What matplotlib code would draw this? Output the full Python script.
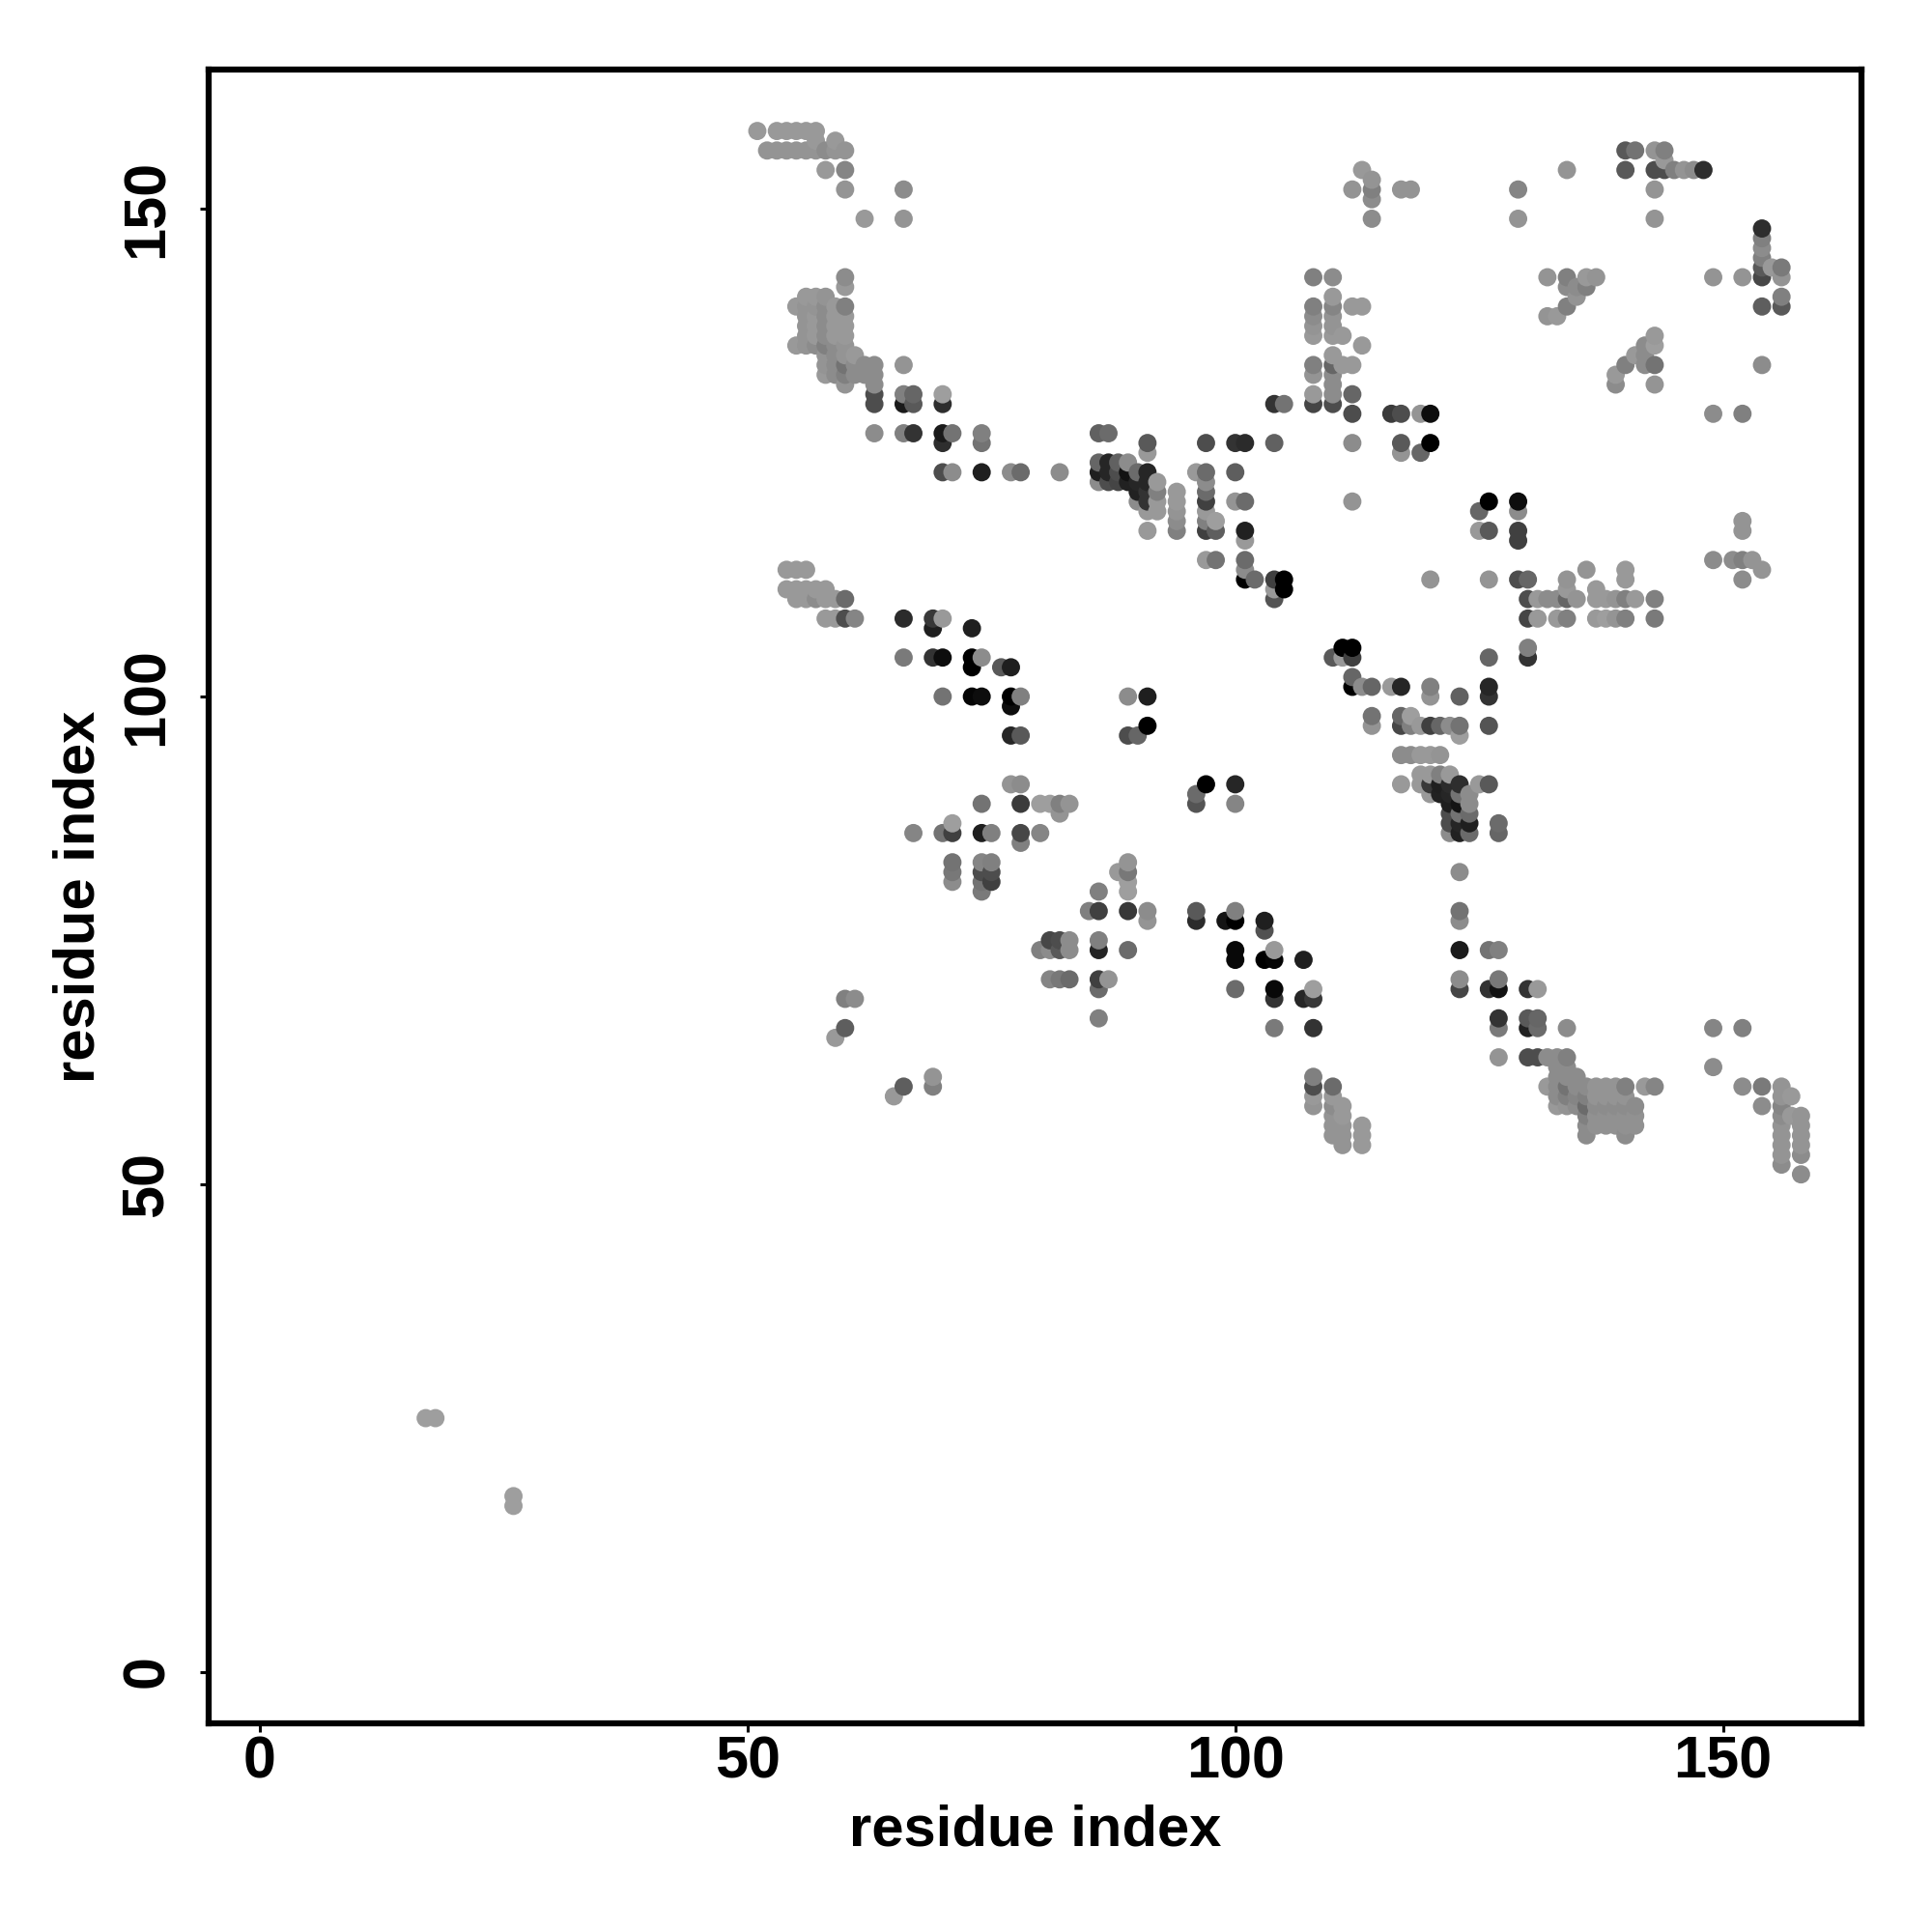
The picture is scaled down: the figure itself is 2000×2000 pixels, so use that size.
import matplotlib
matplotlib.use('Agg')
import matplotlib.pyplot as plt

# contact map, one entry per row of the plot (y), with the x of each dot and its grey level
row_y = [158, 157, 156, 155, 154, 153, 152, 151, 149, 148, 147, 146, 145, 144, 143, 142, 141, 140, 139, 138, 137, 136,
         135, 134, 133, 132, 131, 130, 129, 127, 126, 125, 124, 123, 122, 121, 120, 119, 118, 117, 116, 114, 113, 112,
         111, 110, 108, 107, 105, 104, 103, 102, 101, 100, 99, 98, 97, 96, 94, 92, 91, 90, 89, 88, 87, 86, 85, 83, 82,
         81, 80, 78, 77, 76, 75, 74, 73, 71, 70, 69, 67, 66, 65, 63, 62, 61, 60, 59, 58, 57, 56, 55, 54, 53, 52, 51,
         26, 18, 17]

row_x = [
    [51, 53, 54, 55, 56, 57],
    [57, 59],
    [52, 53, 54, 55, 56, 57, 58, 59, 60, 140, 141, 143, 144],
    [144],
    [58, 60, 113, 134, 140, 143, 144, 145, 146, 147, 148],
    [114],
    [60, 66, 112, 114, 117, 118, 129, 143],
    [114],
    [62, 66, 114, 129, 143],
    [154],
    [154],
    [154],
    [154],
    [154, 155, 156],
    [60, 108, 110, 132, 134, 136, 137, 149, 152, 154, 156],
    [60, 134, 135, 136],
    [56, 57, 58, 110, 135, 156],
    [55, 56, 57, 58, 59, 60, 108, 110, 112, 113, 134, 154, 156],
    [56, 57, 58, 59, 60, 108, 110, 132, 133],
    [56, 57, 58, 59, 60, 108, 110],
    [56, 57, 58, 59, 60, 108, 110, 111, 143],
    [55, 56, 57, 58, 59, 60, 113, 142, 143],
    [58, 59, 60, 61, 110, 141, 142],
    [58, 59, 60, 61, 62, 63, 66, 108, 110, 111, 112, 140, 142, 143, 154],
    [58, 59, 60, 61, 62, 63, 108, 110, 139],
    [60, 63, 110, 139, 143],
    [63, 66, 67, 70, 108, 110, 112],
    [63, 66, 67, 70, 104, 105, 108, 110],
    [112, 116, 117, 119, 120, 149, 152],
    [63, 66, 67, 70, 71, 74, 86, 87],
    [70, 74, 91, 97, 100, 101, 104, 112, 117, 120],
    [91, 117, 119],
    [86, 87, 88, 89],
    [70, 71, 74, 77, 78, 82, 86, 87, 88, 89, 90, 91, 96, 97, 100],
    [86, 87, 88, 89, 90, 91, 92, 97],
    [90, 91, 92, 94, 97],
    [90, 91, 92, 94, 97, 100, 101, 112, 126, 129],
    [91, 92, 94, 97, 125, 129],
    [94, 97, 98, 152],
    [91, 94, 97, 98, 101, 125, 126, 129, 152],
    [101, 129],
    [97, 98, 101, 149, 151, 152, 153],
    [54, 55, 56, 101, 136, 140, 154],
    [101, 102, 104, 105, 120, 126, 129, 130, 134, 140, 152],
    [54, 55, 56, 57, 58, 104, 105, 134, 137],
    [55, 56, 57, 58, 59, 60, 104, 130, 131, 132, 133, 134, 135, 137, 138, 139, 140, 141, 143],
    [58, 59, 60, 61, 66, 69, 70, 130, 131, 133, 134, 137, 138, 139, 140, 143],
    [69, 73],
    [111, 112, 130],
    [66, 69, 70, 73, 74, 110, 111, 112, 126, 130],
    [73, 76, 77],
    [112],
    [112, 113, 114, 116, 117, 120, 126],
    [70, 73, 74, 77, 78, 89, 91, 120, 123, 126],
    [77],
    [114, 117, 118],
    [91, 114, 117, 118, 119, 120, 121, 122, 123, 126],
    [77, 78, 89, 90, 123],
    [117, 118, 119, 120, 121],
    [119, 120, 121, 122],
    [77, 78, 97, 100, 117, 119, 120, 121, 122, 123, 125, 126],
    [96, 120, 121, 122, 123, 124],
    [74, 78, 80, 81, 82, 83, 96, 100, 122, 123, 124],
    [82, 122, 123, 124],
    [71, 122, 123, 124, 127],
    [67, 70, 71, 74, 75, 78, 80, 122, 123, 124, 127],
    [78],
    [71, 74, 75, 89],
    [71, 74, 75, 88, 89, 123],
    [71, 74, 75, 89],
    [74, 86, 89],
    [85, 86, 89, 91, 96, 100, 123],
    [91, 96, 99, 100, 103, 123],
    [103],
    [81, 82, 83, 86],
    [80, 81, 82, 83, 86, 89, 100, 104, 123, 126, 127],
    [100, 103, 104, 107],
    [81, 82, 83, 86, 87, 123, 127],
    [86, 100, 104, 108, 123, 126, 127, 130, 131],
    [60, 61, 104, 107, 108],
    [86, 127, 130, 131],
    [60, 104, 108, 127, 130, 131, 134, 149, 152],
    [59],
    [127, 130, 131, 132, 133, 134],
    [133, 134, 149],
    [69, 108, 133, 134, 135],
    [66, 69, 108, 110, 132, 133, 134, 135, 136, 137, 138, 139, 140, 142, 143, 152, 154, 156],
    [65, 108, 110, 133, 134, 135, 136, 137, 138, 139, 140, 156, 157],
    [108, 110, 111, 133, 134, 135, 136, 137, 138, 139, 140, 141, 154, 156],
    [110, 111, 136, 137, 138, 139, 140, 141, 156, 157, 158],
    [110, 111, 113, 136, 137, 138, 139, 140, 141, 156, 158],
    [110, 111, 113, 136, 140, 156, 158],
    [111, 113, 156, 158],
    [156, 158],
    [156],
    [158],
    [17, 18],
    [26],
    [26],
]

row_grey = [
    [.6, .6, .6, .6, .6, .6],
    [.6, .6],
    [.58, .58, .58, .58, .58, .58, .55, .58, .58, .35, .45, .58, .5],
    [.6],
    [.6, .52, .6, .58, .35, .3, .3, .5, .58, .55, .18],
    [.58],
    [.58, .55, .58, .5, .58, .58, .52, .58],
    [.55],
    [.6, .58, .55, .58, .58],
    [.18],
    [.5],
    [.55],
    [.5],
    [.35, .6, .48],
    [.55, .5, .55, .58, .5, .6, .58, .58, .58, .28, .58],
    [.6, .55, .55, .5],
    [.6, .6, .58, .6, .58, .5],
    [.6, .58, .58, .55, .6, .5, .5, .52, .6, .6, .5, .37, .35],
    [.58, .6, .55, .6, .6, .55, .58, .58, .6],
    [.58, .6, .55, .6, .6, .58, .58],
    [.58, .6, .55, .6, .6, .6, .6, .6, .6],
    [.6, .58, .55, .5, .55, .58, .6, .55, .62],
    [.58, .55, .58, .6, .6, .6, .55],
    [.58, .55, .45, .55, .55, .55, .58, .5, .4, .6, .6, .5, .55, .45, .55],
    [.6, .55, .5, .55, .55, .55, .58, .55, .6],
    [.58, .55, .55, .55, .58],
    [.3, .5, .4, .62, .6, .55, .4],
    [.3, .1, .35, .18, .2, .45, .27, .3],
    [.3, .23, .3, .58, .05, .55, .5],
    [.55, .5, .2, .1, .45, .5, .38, .42],
    [.18, .45, .35, .3, .2, .17, .38, .55, .35, 0],
    [.6, .58, .4],
    [.4, .15, .38, .55],
    [.3, .55, .12, .55, .42, .55, .12, .15, .3, .07, .42, .15, .6, .42, .37],
    [.55, .3, .27, .13, .15, .15, .6, .55],
    [.13, .2, .5, .6, .42],
    [.55, .2, .6, .6, .25, .58, .42, .58, 0, .05],
    [.6, .6, .58, .6, .4, .55],
    [.55, .5, .62, .58],
    [.6, .5, .25, .37, .13, .6, .35, .25, .58],
    [.6, .25],
    [.6, .45, .42, .55, .55, .5, .58],
    [.6, .6, .6, .55, .58, .6, .58],
    [0, .42, .25, 0, .58, .58, .3, .4, .58, .6, .55],
    [.6, .6, .6, .6, .6, .6, 0, .6, .6],
    [.6, .6, .55, .6, .6, .42, .33, .3, .6, .55, .55, .4, .58, .6, .6, .58, .5, .6, .5],
    [.6, .6, .3, .52, .17, .22, .6, .27, .6, .6, .5, .6, .62, .58, .5, .48],
    [.12, .12],
    [0, 0, .5],
    [.48, .2, .05, 0, .55, .35, .6, .25, .4, .2],
    [0, .35, .12],
    [.4],
    [0, .55, .4, .6, .15, .5, .15],
    [.45, .02, .05, 0, .5, .55, .12, .58, .38, .2],
    [.05],
    [.45, .4, .62],
    [0, .58, .28, .5, .6, .25, .4, .55, .45, .33],
    [.15, .35, .3, .4, .62],
    [.55, .55, .6, .6, .58],
    [.6, .6, .5, .6],
    [.58, .55, 0, .15, .6, .6, .22, .12, .17, .18, .6, .35],
    [.42, .6, .13, .15, .45, .55],
    [.45, .23, .62, .62, .5, .58, .33, .52, .12, .08, .55],
    [.58, .3, .45, .42],
    [.62, .3, .15, .12, .42],
    [.52, .45, .25, .12, .5, .28, .52, .55, .13, .42, .4],
    [.5],
    [.45, .52, .5, .58],
    [.47, .3, .3, .6, .47, .55],
    [.55, .45, .25, .62],
    [.48, .5, .62],
    [.5, .25, .22, .55, .35, .5, .45],
    [.58, .17, .08, 0, .12, .55],
    [.32],
    [.28, .3, .55, .5],
    [.5, .55, .35, .55, .14, .42, .03, .6, .1, .45, .5],
    [.03, 0, .02, .12],
    [.52, .47, .42, .25, .58, .55, .47],
    [.42, .42, .03, .62, .27, .2, .07, .2, .6],
    [.5, .55, .2, .15, .22],
    [.5, .2, .35, .4],
    [.37, .48, .2, .48, .13, .42, .55, .52, .5],
    [.6],
    [.58, .3, .3, .55, .55, .5],
    [.55, .55, .55],
    [.58, .5, .55, .55, .55],
    [.37, .5, .3, .42, .6, .55, .45, .55, .55, .58, .58, .58, .5, .6, .52, .55, .48, .58],
    [.6, .6, .6, .55, .5, .52, .5, .58, .58, .58, .58, .58, .6],
    [.58, .55, .6, .6, .58, .55, .42, .55, .55, .55, .55, .55, .55, .52],
    [.58, .6, .5, .57, .57, .57, .57, .57, .55, .6, .58],
    [.58, .58, .6, .55, .57, .57, .57, .57, .57, .58, .58],
    [.58, .58, .6, .55, .55, .58, .58],
    [.58, .6, .58, .58],
    [.58, .55],
    [.55],
    [.55],
    [.62, .62],
    [.62],
    [.62],
]

tick_values = [0, 50, 100, 150]

# flatten, later x and higher y are drawn on top
dots = []
for y, xs, greys in zip(row_y, row_x, row_grey, strict=True):
    for x, g in zip(xs, greys, strict=True):
        dots.append((x, y, g))
dots.sort()

plt.rcParams['font.family'] = ['Liberation Sans', 'DejaVu Sans']
plt.rcParams['font.weight'] = 'bold'

fig = plt.figure(figsize=(20, 20), dpi=100)
ax = fig.add_axes([216 / 2000, 1 - 1784 / 2000, 1711 / 2000, 1712 / 2000])

ax.scatter([d[0] for d in dots], [d[1] for d in dots], c=[str(d[2]) for d in dots],
           s=185, linewidths=0, zorder=3)

ax.set_xlim(-5.25, 164.2)
ax.set_ylim(-5.3, 164.3)
ax.set_xticks(tick_values)
ax.set_yticks(tick_values)
ax.tick_params(axis='both', length=6.5, width=2.2, labelsize=44)
ax.tick_params(axis='x', pad=2.5)
ax.tick_params(axis='y', pad=18)
for lab in ax.get_yticklabels():
    lab.set_rotation(90)
    lab.set_va('center')
for s in ax.spines.values():
    s.set_linewidth(4.5)

ax.set_xlabel('residue index', fontsize=43, fontweight='bold')
ax.set_ylabel('residue index', fontsize=43, fontweight='bold')
ax.xaxis.set_label_coords(0.5, -111 / 1712, transform=ax.transAxes)
ax.yaxis.set_label_coords(-134 / 1711, 0.5, transform=ax.transAxes)
ax.xaxis.label.set_va('center')
ax.yaxis.label.set_va('center')

plt.savefig('out.png', dpi=100)
plt.close()
